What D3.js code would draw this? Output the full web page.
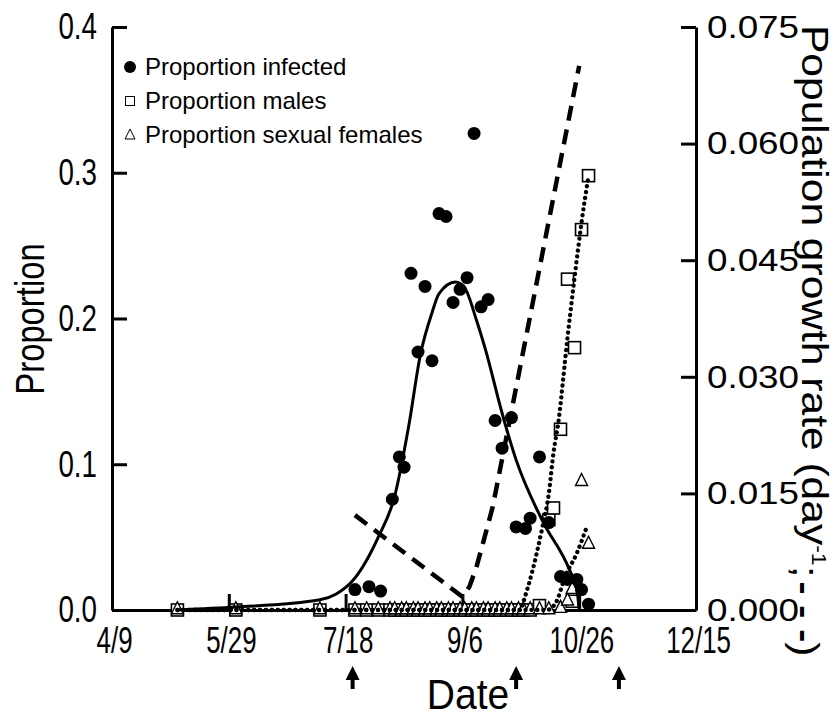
<!DOCTYPE html>
<html>
<head>
<meta charset="utf-8">
<script src="https://cdn.jsdelivr.net/npm/d3@7"></script>
<style>
  body { margin: 0; background: #fff; }
  svg { display: block; }
  text { font-family: "Liberation Sans", Arial, Helvetica, sans-serif; fill: #000; }
</style>
</head>
<body>
<svg id="chart" width="835" height="717"></svg>
<script>
// tick labels
const xTicks = ["4/9", "5/29", "7/18", "9/6", "10/26", "12/15"];
const propTicks = [0, 0.1, 0.2, 0.3, 0.4];
const rateTicks = [0, 0.015, 0.030, 0.045, 0.060, 0.075];

// proportion infected (filled circles) and its fitted curve
const infected = [
  ["7/22", 0.014], ["7/28", 0.016], ["8/2", 0.013], ["8/7", 0.076], ["8/10", 0.105],
  ["8/12", 0.098], ["8/15", 0.231], ["8/18", 0.177], ["8/21", 0.222], ["8/24", 0.171],
  ["8/27", 0.272], ["8/30", 0.270], ["9/2", 0.211], ["9/5", 0.220], ["9/8", 0.228],
  ["9/11", 0.327], ["9/14", 0.208], ["9/17", 0.213], ["9/20", 0.130], ["9/23", 0.111],
  ["9/27", 0.132], ["9/29", 0.057], ["10/3", 0.056], ["10/5", 0.063], ["10/9", 0.105],
  ["10/13", 0.060], ["10/18", 0.023], ["10/21", 0.021], ["10/25", 0.021], ["10/27", 0.014],
  ["10/30", 0.004]
];
const infectedFit = [
  ["5/7", 0], ["6/1", 0.002], ["7/7", 0.007], ["7/14", 0.011], ["7/21", 0.020], ["8/1", 0.050],
  ["8/8", 0.078], ["8/14", 0.126], ["8/19", 0.175], ["8/24", 0.204], ["8/27", 0.217],
  ["9/3", 0.225], ["9/7", 0.221], ["9/12", 0.199], ["9/16", 0.178], ["9/23", 0.135],
  ["9/29", 0.103], ["10/10", 0.062], ["10/22", 0.027], ["10/25", 0.014], ["10/26", 0]
];

// proportion males (open squares) and fit
const males = [
  ["5/7", 0], ["6/1", 0], ["7/7", 0], ["7/22", 0], ["7/27", 0], ["8/1", 0], ["8/6", 0],
  ["8/8", 0], ["8/11", 0], ["8/13", 0], ["8/16", 0], ["8/18", 0], ["8/21", 0], ["8/23", 0],
  ["8/26", 0], ["8/28", 0], ["8/31", 0], ["9/2", 0], ["9/5", 0], ["9/7", 0], ["9/10", 0],
  ["9/12", 0], ["9/15", 0], ["9/17", 0], ["9/20", 0], ["9/22", 0], ["9/25", 0], ["9/27", 0],
  ["9/30", 0], ["10/2", 0], ["10/5", 0],
  ["10/9", 0.003], ["10/13", 0.062], ["10/15", 0.070], ["10/18", 0.124], ["10/21", 0.227],
  ["10/23", 0.006], ["10/24", 0.180], ["10/27", 0.261], ["10/30", 0.298]
];
const malesFit = [
  ["5/7", 0], ["10/1", 0], ["10/2", 0.005], ["10/6", 0.027], ["10/10", 0.055],
  ["10/13", 0.080], ["10/15", 0.108], ["10/17", 0.128], ["10/21", 0.187],
  ["10/24", 0.228], ["10/27", 0.266], ["10/30", 0.298]
];

// proportion sexual females (open triangles) and fit
const females = [
  ["5/7", 0], ["6/1", 0], ["7/7", 0], ["7/22", 0], ["7/27", 0], ["8/1", 0], ["8/6", 0],
  ["8/8", 0], ["8/11", 0], ["8/13", 0], ["8/16", 0], ["8/18", 0], ["8/21", 0], ["8/23", 0],
  ["8/26", 0], ["8/28", 0], ["8/31", 0], ["9/2", 0], ["9/5", 0], ["9/7", 0], ["9/10", 0],
  ["9/12", 0], ["9/15", 0], ["9/17", 0], ["9/20", 0], ["9/22", 0], ["9/25", 0], ["9/27", 0],
  ["9/30", 0], ["10/2", 0], ["10/5", 0], ["10/9", 0], ["10/13", 0],
  ["10/18", 0.001], ["10/21", 0.006], ["10/23", 0.014], ["10/27", 0.088], ["10/30", 0.045]
];
const femalesFit = [
  ["5/7", 0], ["10/12", 0], ["10/16", 0.005], ["10/20", 0.023], ["10/25", 0.039], ["10/29", 0.056]
];

// population growth rate (right axis, dashed)
const growthRate = [
  ["7/22", 0.0122], ["9/6", 0.0017], ["9/9", 0.0030], ["9/12", 0.0055],
  ["9/15", 0.0088], ["9/19", 0.0133], ["10/26", 0.0700]
];

const arrowDates = ["7/21", "9/29", "11/12"];

const parseDate = s => d3.timeParse("%m/%d/%Y")(s + "/2001");

const svg = d3.select("#chart");
const plotLeft = 112, plotRight = 696, plotTop = 27, plotBottom = 610;

const x = d3.scaleTime().domain([parseDate("4/9"), parseDate("12/15")]).range([plotLeft, plotRight]);
const yProp = d3.scaleLinear().domain([0, 0.4]).range([plotBottom, plotTop]);
const yRate = d3.scaleLinear().domain([0, 0.075]).range([plotBottom, plotTop]);

// axes
const xAxis = d3.axisBottom(x)
  .tickValues(xTicks.map(parseDate))
  .tickFormat(d3.timeFormat("%-m/%-d"))
  .tickSizeInner(-16).tickSizeOuter(0).tickPadding(17);
const gx = svg.append("g").attr("transform", `translate(0,${plotBottom})`).call(xAxis);
gx.selectAll("text").style("font-size", "37px").attr("transform", "scale(0.7,1)").attr("x", 3);

const yAxisL = d3.axisLeft(yProp).tickValues(propTicks).tickFormat(d3.format(".1f"))
  .tickSizeInner(-15).tickSizeOuter(0).tickPadding(15);
const gyl = svg.append("g").attr("transform", `translate(${plotLeft},0)`).call(yAxisL);
gyl.selectAll("text").style("font-size", "37px")
  .attr("transform", "scale(0.75,1)").attr("x", -15 / 0.75);

const yAxisR = d3.axisRight(yRate).tickValues(rateTicks).tickFormat(d3.format(".3f"))
  .tickSizeInner(-15).tickSizeOuter(0).tickPadding(11);
const gyr = svg.append("g").attr("transform", `translate(${plotRight},0)`).call(yAxisR);
gyr.selectAll("text").style("font-size", "32px")
  .attr("transform", "scale(1.15,1)").attr("x", 11 / 1.15);

svg.selectAll(".domain").attr("stroke-width", 3);
svg.selectAll(".tick line").attr("stroke-width", 3);

// markers
const sq = 12, tri = 12;
svg.append("g").selectAll("rect").data(males).join("rect")
  .attr("x", d => x(parseDate(d[0])) - sq / 2)
  .attr("y", d => yProp(d[1]) - sq / 2)
  .attr("width", sq).attr("height", sq)
  .attr("fill", "#fff").attr("stroke", "#000").attr("stroke-width", 1.6);

const triPath = s => `M0,${-s * 0.6}L${s / 2},${s * 0.4}L${-s / 2},${s * 0.4}Z`;
svg.append("g").selectAll("path").data(females).join("path")
  .attr("d", triPath(tri))
  .attr("transform", d => `translate(${x(parseDate(d[0]))},${yProp(d[1]) - 1})`)
  .attr("fill", "#fff").attr("stroke", "#000").attr("stroke-width", 1.4);

svg.append("g").selectAll("circle").data(infected).join("circle")
  .attr("cx", d => x(parseDate(d[0])))
  .attr("cy", d => yProp(d[1]))
  .attr("r", 6.5).attr("fill", "#000");

// lines
const lineProp = d3.line().x(d => x(parseDate(d[0]))).y(d => yProp(d[1])).curve(d3.curveMonotoneX);
const lineRate = d3.line().x(d => x(parseDate(d[0]))).y(d => yRate(d[1]));

svg.append("path").datum(infectedFit).attr("d", lineProp)
  .attr("fill", "none").attr("stroke", "#000").attr("stroke-width", 3);

svg.append("path").datum(growthRate).attr("d", lineRate)
  .attr("fill", "none").attr("stroke", "#000").attr("stroke-width", 4.5)
  .attr("stroke-dasharray", "15,9");

[malesFit, femalesFit].forEach(fit => {
  svg.append("path").datum(fit).attr("d", lineProp)
    .attr("fill", "none").attr("stroke", "#000").attr("stroke-width", 4.3)
    .attr("stroke-linecap", "round").attr("stroke-dasharray", "0.1,5.8");
});

// arrows under the date axis
const arrows = svg.append("g");
arrowDates.forEach(s => {
  const ax = x(parseDate(s));
  arrows.append("line").attr("x1", ax).attr("x2", ax).attr("y1", 689).attr("y2", 678)
    .attr("stroke", "#000").attr("stroke-width", 4);
  arrows.append("path").attr("d", `M${ax - 7},680L${ax + 7},680L${ax},666Z`).attr("fill", "#000");
});

// legend
const legend = svg.append("g").attr("transform", "translate(130,0)");
legend.append("circle").attr("cx", 0).attr("cy", 67).attr("r", 6).attr("fill", "#000");
legend.append("rect").attr("x", -4.5).attr("y", 96.5).attr("width", 9).attr("height", 9)
  .attr("fill", "#fff").attr("stroke", "#000").attr("stroke-width", 1);
legend.append("path").attr("d", triPath(10)).attr("transform", "translate(0,135)")
  .attr("fill", "#fff").attr("stroke", "#000").attr("stroke-width", 1);
const legendLabels = ["Proportion infected", "Proportion males", "Proportion sexual females"];
legend.selectAll("text.lab").data(legendLabels).join("text").attr("class", "lab")
  .attr("x", 15).attr("y", (d, i) => 67 + i * 34).attr("dy", "0.35em")
  .style("font-size", "24px").text(d => d);

// axis titles
svg.append("text").attr("transform", "translate(44,319) rotate(-90) scale(0.8,1)")
  .attr("text-anchor", "middle").style("font-size", "41px").text("Proportion");

svg.append("text").attr("transform", "translate(468,709) scale(0.93,1)")
  .attr("text-anchor", "middle").style("font-size", "42px").text("Date");

const rLab = svg.append("text").attr("transform", "translate(802,25) rotate(90) scale(1.15,1)")
  .style("font-size", "37px");
rLab.append("tspan").text("Population growth rate (day");
rLab.append("tspan").attr("dy", "-0.5em").style("font-size", "20px").text("-1");
rLab.append("tspan").attr("dy", "0.5em").text(";");
rLab.append("tspan").attr("dx", "0.1em").style("font-weight", "bold").style("font-size", "34px").text("- - -");
rLab.append("tspan").text(")");
</script>
</body>
</html>
